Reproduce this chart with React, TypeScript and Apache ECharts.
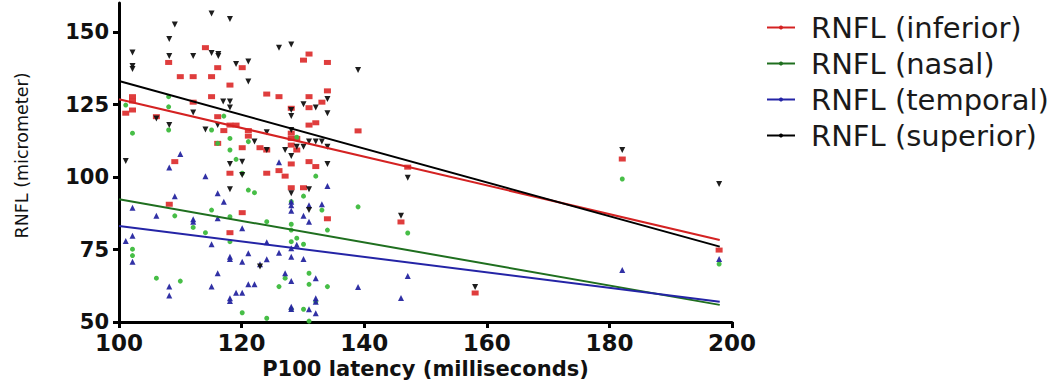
import React, { useEffect, useRef } from "react";
import * as echarts from "echarts";

const seriesNames = ["RNFL (inferior)", "RNFL (nasal)", "RNFL (temporal)", "RNFL (superior)"];

const xTicks = [100, 120, 140, 160, 180, 200];
const yTicks = [50, 75, 100, 125, 150];

const inferiorPoints: [number, number][] = [
  [114.1,144.6],[108.1,139.5],[110,134.6],[112.1,134.6],[115.1,134.6],[116.1,137.7],[120.1,137.7],[118.1,131.7],
  [130.1,140.3],[131,142.4],[134,139.5],[124.1,128.6],[126.1,127.7],[134,129.7],[133.1,125.8],[131,127.7],
  [131,123.9],[115.1,127.7],[112.1,125.8],[128.1,123.7],[102.2,127.7],[102.2,126.2],[102.2,123.1],[101.1,122],
  [106.1,120.8],[116.1,120.8],[118.1,117.9],[119.1,117.9],[117.1,116],[121.1,116],[121.1,114.1],[131,117.9],
  [132.1,118.7],[128.1,115.1],[128.1,113.3],[129,113.3],[116.1,111.6],[123,110.1],[124.1,109.3],[120.1,110.1],
  [128.1,111],[129,109.3],[109.1,105.3],[128.1,104.5],[131,105.3],[132.1,103.6],[118.1,101.3],[124.1,101.3],
  [126.1,102.2],[127.1,100.3],[128.1,96.3],[130.1,96.3],[108.2,90.6],[120.1,87.7],[118.1,80.8],[134,85.6],
  [139,115.9],[147.1,103.4],[146,84.5],[158.1,60],[182.1,106.2],[197.9,74.8]
];

const nasalPoints: [number, number][] = [
  [101.1,124.8],[108.1,127.7],[108.1,124.2],[102.2,115.1],[108.1,116.2],[117.1,121],[115.1,116.2],[116.1,111.6],
  [118.1,113.3],[118.1,109.3],[121.1,112.2],[119.1,106.1],[129,113.7],[120.1,101.3],[132.1,100.3],[121.1,95.5],
  [122.1,94.6],[130.1,93.4],[128.1,91.5],[115.1,88.6],[124.1,84.6],[118.1,86.3],[112.1,82.6],[114.1,80.8],
  [128.1,83.7],[128.1,81.7],[129,78.9],[128.1,77.7],[133.1,88.6],[134,81.7],[109.1,86.6],[102.2,75.1],
  [102.2,72.9],[106.1,65.1],[110,64.1],[131,66.8],[127.1,65.1],[126.1,62.2],[131,63],[134,62.2],
  [128.1,54.4],[130.1,54.4],[132.1,57],[120.1,53.2],[124.1,51.3],[131,50.3],[118.1,77.7],[130.1,76.8],
  [139,89.7],[147.1,80.7],[182.1,99.3],[197.9,70]
];

const temporalPoints: [number, number][] = [
  [110,107.9],[108.2,103.3],[126.1,105.1],[114.1,100.3],[116.1,94.4],[109.1,93.4],[117.1,91.5],[102.2,89.4],
  [106.1,86.6],[112.1,85.4],[112.1,84.6],[116.1,85.8],[120.1,82.3],[128.1,91.5],[128.1,90.3],[128.1,88.4],
  [131,90.3],[133.1,90.6],[130.1,86.6],[131,84.6],[134,96.9],[101.1,77.9],[102.2,79.7],[102.2,70.8],
  [115.1,76.8],[118.1,72.5],[118.1,71.7],[120.1,70.8],[121.1,73.7],[124.1,71.6],[124.1,77.5],[126.1,73.9],
  [128.1,75.4],[128.1,72.5],[129,76.6],[130.1,71.7],[123,69.9],[116.1,66.8],[127.1,66.8],[128.1,64.1],
  [132.1,65.1],[108.2,62.2],[108.2,59.1],[115.1,62.2],[121.1,63],[122.1,63],[119.1,60.1],[120.1,60.1],
  [118.1,58.2],[118.1,57.2],[128.1,55.3],[128.1,54.5],[131,54.4],[132.1,58.2],[132.1,57],[132.1,53],
  [139,62.1],[147.1,65.9],[146,58.3],[182.1,67.9],[197.9,71.7]
];

const superiorPoints: [number, number][] = [
  [115.1,156.4],[118.1,154.5],[109.1,152.6],[108.2,147.6],[102.2,142.9],[102.2,138.3],[102.2,137.2],[108.2,141.7],
  [112.1,141.7],[115.1,142.8],[116.2,142.4],[116.2,141.7],[119.1,139],[121.1,139.8],[121.1,132.9],[126.1,144.6],
  [128.1,145.7],[117,126],[118.1,126],[118.1,124],[112.1,122.2],[106.1,120.2],[108.2,117.9],[116.1,117.9],
  [114.1,116.4],[124.1,115.4],[122.1,112.2],[128.1,123.1],[128.1,121],[130.1,125.1],[132.1,124],[134,126.9],
  [134,122],[128.1,116.2],[129,110.4],[130.1,110.4],[131,112.2],[132.1,112.2],[133.1,112.2],[134,110.4],
  [124.1,109.3],[127.1,109.3],[128.1,107.2],[118.1,104.5],[120.1,105.3],[134,104.5],[101.1,105.5],[120.1,100.7],
  [118.1,95.8],[128.1,94.4],[131,95.8],[131,88.6],[123,69.1],[139,136.9],[147.1,99.7],[146,86.6],
  [158.1,62.1],[182.1,109.3],[197.9,97.6]
];

const inferiorFit: [number, number][] = [[100, 126.8], [198, 78.3]];
const nasalFit: [number, number][] = [[100, 92.3], [198, 55.9]];
const temporalFit: [number, number][] = [[100, 83.1], [198, 57.0]];
const superiorFit: [number, number][] = [[100, 133.1], [198, 76.0]];

const pointColors = ["#dd3333", "#3dbb3d", "#2626a0", "#111111"];
const lineColors = ["#d42222", "#1f6f1f", "#2424a6", "#000000"];

export default function App() {
  const ref = useRef<HTMLDivElement>(null);
  useEffect(() => {
    if (!ref.current) return;
    const chart = echarts.init(ref.current, null, { renderer: "svg" });
    const fits = [inferiorFit, nasalFit, temporalFit, superiorFit];
    const pts = [inferiorPoints, nasalPoints, temporalPoints, superiorPoints];
    const symbols = ["rect", "circle", "triangle", "triangle"];
    const sizes: any[] = [[7, 5], 5, 6, 6];
    const rotates = [0, 0, 0, 180];
    const lineSeries = fits.map((d, i) => ({
      type: "line",
      name: seriesNames[i],
      data: d,
      symbol: "circle",
      showSymbol: false,
      z: 4,
      lineStyle: { color: lineColors[i], width: 2 },
      itemStyle: { color: lineColors[i] },
      silent: true,
    }));
    const scatterSeries = pts.map((d, i) => ({
      type: "scatter",
      name: seriesNames[i],
      data: d,
      symbol: symbols[i],
      symbolSize: sizes[i],
      symbolRotate: rotates[i],
      z: 3,
      itemStyle: { color: pointColors[i], opacity: 0.95 },
    }));
    chart.setOption({
      animation: false,
      backgroundColor: "#ffffff",
      grid: { left: 119, right: 327, top: 3, bottom: 67, containLabel: false },
      legend: {
        orient: "vertical",
        left: 761,
        top: 8,
        itemWidth: 28,
        itemHeight: 5,
        itemGap: 7,
        data: seriesNames,
        textStyle: {
          fontFamily: "DejaVu Sans",
          fontSize: 29,
          color: "#1a1a1a",
          padding: [0, 0, 0, 11],
        },
      },
      xAxis: {
        type: "value",
        min: 100,
        max: 200,
        interval: 20,
        name: "P100 latency (milliseconds)",
        nameLocation: "middle",
        nameGap: 34,
        nameTextStyle: {
          fontFamily: "DejaVu Sans",
          fontWeight: "bold",
          fontSize: 21,
          color: "#111",
        },
        axisLine: { lineStyle: { color: "#000", width: 3 } },
        axisTick: { show: true, length: 6, lineStyle: { color: "#000", width: 3 }, customValues: xTicks },
        axisLabel: {
          fontFamily: "DejaVu Sans",
          fontWeight: "bold",
          fontSize: 23,
          lineHeight: 19,
          color: "#111",
          margin: 11,
          customValues: xTicks,
        },
        splitLine: { show: false },
      },
      yAxis: {
        type: "value",
        min: 50,
        max: 160,
        name: "RNFL (micrometer)",
        nameLocation: "middle",
        nameGap: 88,
        nameRotate: 90,
        nameTextStyle: {
          fontFamily: "DejaVu Sans",
          fontSize: 17.5,
          color: "#111",
          padding: [0, 0, 0, 14],
        },
        axisLine: { show: true, lineStyle: { color: "#000", width: 3 } },
        axisTick: { show: true, length: 6, lineStyle: { color: "#000", width: 3 }, customValues: yTicks },
        axisLabel: {
          fontFamily: "DejaVu Sans",
          fontWeight: "bold",
          fontSize: 21,
          lineHeight: 17,
          color: "#111",
          margin: 10,
          customValues: yTicks,
        },
        splitLine: { show: false },
      },
      series: [...lineSeries, ...scatterSeries],
    });
    return () => chart.dispose();
  }, []);
  return (
    <div
      ref={ref}
      style={{ position: "fixed", left: 0, top: 0, width: 1059, height: 389, background: "#fff" }}
    />
  );
}
